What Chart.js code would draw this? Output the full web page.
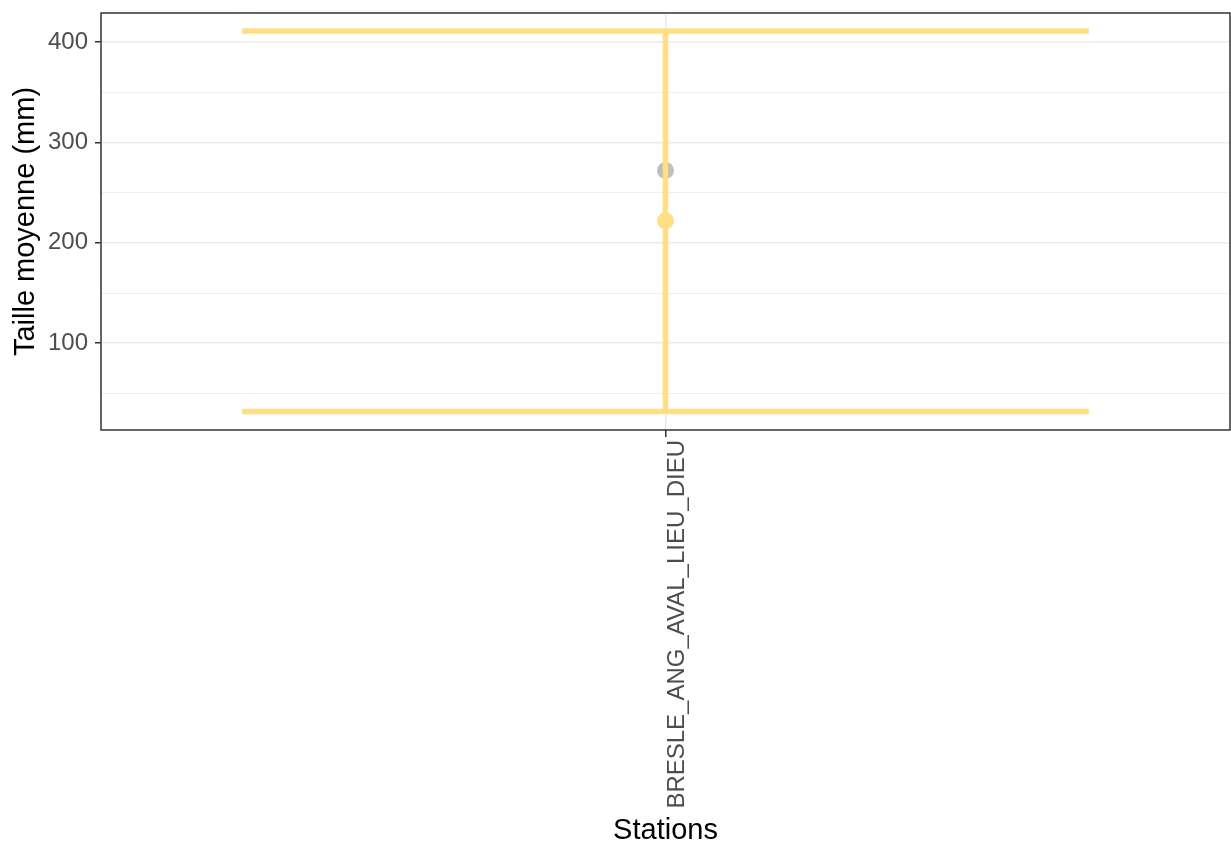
<!DOCTYPE html>
<html lang="fr">
<head>
<meta charset="UTF-8">
<title>Taille moyenne par station</title>
<script src="https://cdn.jsdelivr.net/npm/chart.js"></script>
<style>
  *{margin:0;padding:0;box-sizing:border-box}
  html,body{width:100%;height:100%;background:#fff}
  canvas{display:block}
</style>
</head>
<body>
<canvas id="chart" width="1231" height="848"></canvas>
<script>
// valeurs
const stations = ['BRESLE_ANG_AVAL_LIEU_DIEU'];
const tailleMoy = [222];   // point jaune
const tailleRef = [272];   // point gris
const tailleMin = [32];
const tailleMax = [411];
const yMajor = [100, 200, 300, 400];
const yMinor = [50, 150, 250, 350];

const JAUNE = '#fedf86';
const GRIS = '#bebebe';
const capHalf = 0.45;   // demi-largeur des barres d'erreur (unités x)

const xs = stations.map((s, i) => i + 1);

Chart.defaults.font.family = '"Liberation Sans", Arial, sans-serif';

const lineStyle = {
  type: 'scatter', showLine: true, pointRadius: 0, borderColor: JAUNE,
  borderWidth: 5.5, order: 1
};

const barres = xs.flatMap((x, i) => [
  { ...lineStyle, data: [{x: x, y: tailleMin[i]}, {x: x, y: tailleMax[i]}] },
  { ...lineStyle, data: [{x: x - capHalf, y: tailleMax[i]}, {x: x + capHalf, y: tailleMax[i]}] },
  { ...lineStyle, data: [{x: x - capHalf, y: tailleMin[i]}, {x: x + capHalf, y: tailleMin[i]}] }
]);

// cadre du panneau (theme_bw)
const cadre = {
  id: 'cadre',
  afterDatasetsDraw(chart) {
    const {ctx, chartArea: a} = chart;
    ctx.save();
    ctx.strokeStyle = '#333333';
    ctx.lineWidth = 1.5;
    ctx.strokeRect(a.left, a.top, a.right - a.left, a.bottom - a.top);
    ctx.restore();
  }
};

new Chart(document.getElementById('chart'), {
  type: 'scatter',
  data: {
    datasets: [
      { data: xs.map((x, i) => ({x: x, y: tailleRef[i]})), backgroundColor: GRIS,
        pointRadius: 8.5, pointBorderWidth: 0, order: 2 },
      ...barres,
      { data: xs.map((x, i) => ({x: x, y: tailleMoy[i]})), backgroundColor: JAUNE,
        pointRadius: 8.5, pointBorderWidth: 0, order: 0 }
    ]
  },
  options: {
    responsive: false,
    animation: false,
    events: [],
    layout: { autoPadding: false, padding: { top: 13, right: 1, left: 0, bottom: 0 } },
    plugins: { legend: { display: false }, tooltip: { enabled: false } },
    scales: {
      x: {
        type: 'linear', min: 0.4, max: 1.6,
        afterBuildTicks: s => { s.ticks = xs.map(v => ({value: v})); },
        afterFit: s => { s.height = 418; s.paddingLeft = 0; s.paddingRight = 0; },
        border: { display: false },
        grid: { color: '#ebebeb', lineWidth: 1.5, tickColor: '#333333', tickLength: 7, tickWidth: 1.5 },
        ticks: {
          autoSkip: false, minRotation: 90, maxRotation: 90, padding: 3, labelOffset: 12,
          color: '#4d4d4d', font: { size: 24 },
          callback: (v, i) => stations[i]
        },
        title: { display: true, text: 'Stations', color: '#000', font: { size: 29 }, padding: { top: 0, bottom: 0 } }
      },
      y: {
        min: 13.5, max: 429,
        afterBuildTicks: s => {
          s.ticks = [...yMinor, ...yMajor].sort((a, b) => a - b).map(v => ({value: v}));
        },
        afterFit: s => { s.width = 101; s.paddingTop = 0; s.paddingBottom = 0; },
        border: { display: false },
        grid: {
          color: '#ebebeb',
          lineWidth: c => yMajor.includes(c.tick.value) ? 1.5 : 0.8,
          tickColor: c => yMajor.includes(c.tick.value) ? '#333333' : 'rgba(0,0,0,0)',
          tickLength: 6, tickWidth: 1.5
        },
        ticks: {
          padding: 7, color: '#4d4d4d', font: { size: 24 },
          callback: v => yMajor.includes(v) ? v : ''
        },
        title: { display: true, text: 'Taille moyenne (mm)', color: '#000', font: { size: 29 }, padding: { top: 9, bottom: 0 } }
      }
    }
  },
  plugins: [cadre]
});
</script>
</body>
</html>
